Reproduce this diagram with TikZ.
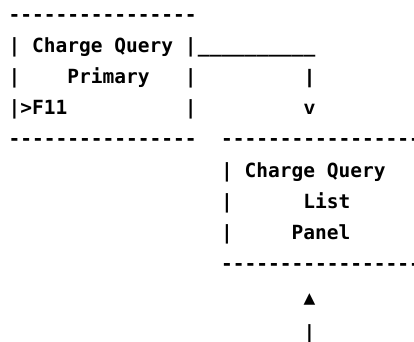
\documentclass[tikz,border=0pt]{standalone}
\usepackage{fontspec}
\setmonofont{DejaVu Sans Mono}
\newfontfamily\linkfamily{Liberation Sans}
\newcommand{\asciifont}{\ttfamily\bfseries\fontsize{19.5}{20}\selectfont}
\newcommand{\linkfont}{\linkfamily\bfseries\fontsize{19.5}{20}\selectfont}
\tikzset{
  asciirow/.style={font=\asciifont, inner sep=0pt, anchor=base west},
  asciimark/.style={font=\asciifont, inner sep=0pt, anchor=base},
  linkglyph/.style={font=\linkfont, inner sep=0pt, anchor=base},
}

\begin{document}
\begin{tikzpicture}[x=1pt, y=-1pt]
  \useasboundingbox (0,0) rectangle (414,341);

  % primary panel
  \node[asciirow] (primTop) at (8.5, 21) {----------------};
  \node[asciirow] (primTitle) at (8.5, 52.2) {|~Charge~Query~|};
  \node[asciirow] (primName) at (8.5, 83.4) {|~~~~Primary~~~|};
  \node[asciirow] (primKey) at (8.5, 114.6) {|>F11~~~~~~~~~~|};
  \node[asciirow] (primBottom) at (8.5, 145.8) {----------------};

  % link to the list panel
  \node[asciirow] (linkBar) at ([xshift=1pt]primTitle.base east) {\_\_\_\_\_\_\_\_\_\_};
  \node[linkglyph] (linkStem) at (309.5, 83.4) {|};
  \node[linkglyph] (linkHead) at (309.5, 114.6) {v};

  % list panel
  \node[asciirow] (listTop) at (221, 145.8) {-----------------};
  \node[asciirow] (listTitle) at (221, 177) {|~Charge~Query};
  \node[asciirow] (listName) at (221, 208.2) {|~~~~~~List};
  \node[asciirow] (listPanel) at (221, 239.4) {|~~~~~Panel};
  \node[asciirow] (listBottom) at (221, 270.6) {-----------------};

  % return link
  \node[asciimark] (backHead) at (309.5, 304) {▲};
  \node[asciimark] (backStem) at (309.5, 339) {|};
\end{tikzpicture}
\end{document}
